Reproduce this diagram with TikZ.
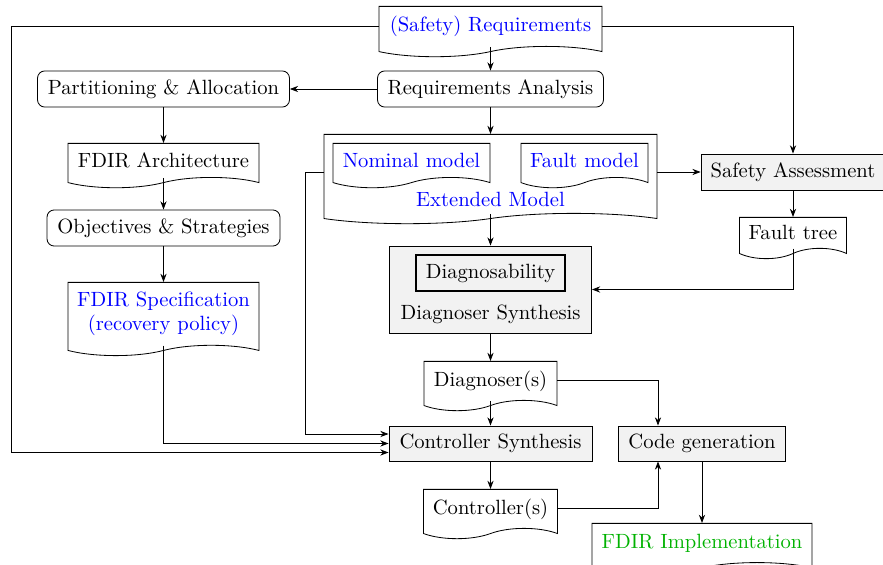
\documentclass[tikz,border=0pt]{standalone}
\usetikzlibrary{shapes.symbols,arrows.meta,calc}
\begin{document}
\begin{tikzpicture}[x=0.485pt,y=-0.485pt,
  every node/.style={font=\normalsize, inner sep=2pt},
  doc/.style={tape, tape bend top=none, draw, align=center, anchor=north},
  proc/.style={rectangle, rounded corners=3.5pt, draw, minimum height=17.5pt},
  gbox/.style={rectangle, draw, fill=gray!10, minimum height=17pt},
  arr/.style={-{Stealth[length=4pt,width=3pt]}},
  req/.style={text=blue},
  impl/.style={text=green!70!black}]
\useasboundingbox (0,0) rectangle (883,565);
% nodes
\node[doc, req, minimum width=108.2pt, minimum height=24.4pt] (SR) at (490.5,6) {(Safety) Requirements};
\node[proc, minimum width=109.6pt] (RA) at (490.5,89) {Requirements Analysis};
\node[proc, minimum width=122.2pt] (PA) at (163.5,89) {Partitioning \& Allocation};
\node[doc, minimum width=92.6pt, minimum height=21.5pt] (FA) at (163.5,143) {FDIR Architecture};
\node[proc, minimum width=113pt] (OS) at (163.5,228) {Objectives \& Strategies};
\node[doc, req, minimum width=92.6pt, minimum height=35.5pt] (FS) at (163.5,282) {FDIR Specification\\(recovery policy)};
\node[doc, minimum width=161.5pt, minimum height=43.3pt] (EM) at (490.5,134) {};
\node[doc, req, minimum width=76.1pt, minimum height=21.5pt] (NM) at (411.5,143) {Nominal model};
\node[doc, req, minimum width=61.6pt, minimum height=21.5pt] (FM) at (584.5,143) {Fault model};
\node[req] (EMl) at (490.5,199) {Extended Model};
\node[gbox, minimum width=89.2pt, minimum height=17.5pt] (SA) at (793,172) {Safety Assessment};
\node[doc, minimum width=51.9pt, minimum height=20pt] (FT) at (793,217) {Fault tree};
\node[gbox, minimum width=98pt, minimum height=42.2pt] (DS) at (490.5,289.5) {};
\node[rectangle, draw, line width=1.1pt, fill=gray!10, minimum width=72.3pt, minimum height=17.5pt] (DB) at (490.5,273) {Diagnosability};
\node (DSl) at (490.5,314) {Diagnoser Synthesis};
\node[doc, minimum width=64.5pt, minimum height=23.9pt] (DG) at (490.5,361) {Diagnoser(s)};
\node[gbox, minimum width=98.5pt] (CS) at (490.5,443.5) {Controller Synthesis};
\node[gbox, minimum width=81pt] (CG) at (702,443.5) {Code generation};
\node[doc, minimum width=65pt, minimum height=23.9pt] (CT) at (490.5,489) {Controller(s)};
\node[doc, impl, minimum width=106.7pt, minimum height=24pt] (FI) at (702,523) {FDIR Implementation};
% helper coordinates
\coordinate (lx) at (11,0);
\coordinate (cgx) at (658,0);
% connectors
\draw[arr] (SR.south) -- (RA.north);
\draw[arr] (RA.west) -- (PA.east);
\draw[arr] (RA.south) -- (EM.north);
\draw[arr] (PA.south) -- (FA.north);
\draw[arr] (FA.south) -- (OS.north);
\draw[arr] (OS.south) -- (FS.north);
\draw[arr] (FS.south) |- (CS.west);
\draw[arr] (SR.west) -- (SR.west -| lx) |- ($(CS.west)+(0,9)$);
\draw[arr] (SR.east) -| (SA.north);
\draw[arr] (EM.west |- SA.west) -- ++(-18,0) |- ($(CS.west)+(0,-9.5)$);
\draw[arr] (EM.east |- SA.west) -- (SA.west);
\draw[arr] (EM.south) -- (DS.north);
\draw[arr] (SA.south) -- (FT.north);
\draw[arr] (FT.south) |- (DS.east);
\draw[arr] (DS.south) -- (DG.north);
\draw[arr] (DG.south) -- (CS.north);
\draw[arr] (CS.south) -- (CT.north);
\draw[arr] (DG.east) -| (CG.north -| cgx);
\draw[arr] (CT.east) -| (CG.south -| cgx);
\draw[arr] (CG.south) -- (FI.north);
\end{tikzpicture}
\end{document}
